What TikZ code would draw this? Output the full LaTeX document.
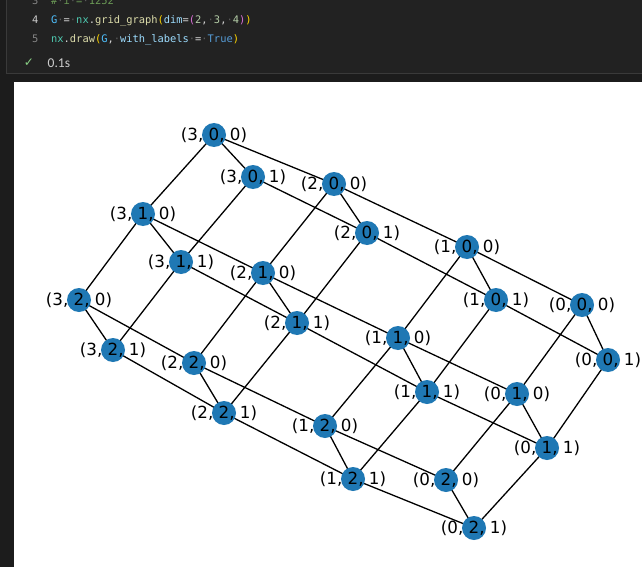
\documentclass[tikz,border=0pt]{standalone}
\usepackage{fontspec}
\setmainfont{DejaVu Sans}
\newfontfamily\codefont{DejaVu Sans Mono}
\newfontfamily\uifont{Carlito}
\newfontfamily\symfont{DejaVu Sans}
\definecolor{outerbg}{HTML}{1C1C1C}
\definecolor{cellbg}{HTML}{222222}
\definecolor{cellborder}{HTML}{3A3A3A}
\definecolor{lnumc}{HTML}{858585}
\definecolor{lnumact}{HTML}{CCCCCC}
\definecolor{varc}{HTML}{4FC1FF}
\definecolor{paramc}{HTML}{9CDCFE}
\definecolor{opc}{HTML}{D4D4D4}
\definecolor{modc}{HTML}{4EC9B0}
\definecolor{funcc}{HTML}{DCDCAA}
\definecolor{br1}{HTML}{FFD700}
\definecolor{br2}{HTML}{DA70D6}
\definecolor{numc}{HTML}{B5CEA8}
\definecolor{kwc}{HTML}{569CD6}
\definecolor{commc}{HTML}{6A9955}
\definecolor{wsdot}{HTML}{5A5A5A}
\definecolor{okc}{HTML}{89D185}
\definecolor{timec}{HTML}{CCCCCC}
\definecolor{nodeblue}{HTML}{1F78B4}
\newcommand\wsd{\textcolor{wsdot}{·}}
\pgfdeclarelayer{back}
\pgfdeclarelayer{edges}
\pgfsetlayers{back,edges,main}
\tikzset{
  codetxt/.style={font=\codefont\fontsize{10.4}{12}\selectfont, inner sep=0pt, anchor=base west, text=opc},
  lnum/.style={font=\codefont\fontsize{10.4}{12}\selectfont, inner sep=0pt, anchor=base east, text=lnumc},
  vtx/.style={circle, fill=nodeblue, minimum size=24pt, inner sep=0pt},
  lab/.style={font=\fontsize{16.7}{18}\selectfont, inner sep=0pt, text=black},
  edge/.style={draw=black, line width=1.3pt},
}
\begin{document}
\begin{tikzpicture}[x=1pt,y=-1pt]
\useasboundingbox (0,0) rectangle (642,567);
\begin{pgfonlayer}{back}
\fill[outerbg] (0,0) rectangle (642,567);
\fill[cellbg] (6,-5) rectangle (642,73);
\draw[cellborder, line width=1pt] (6.5,-5) -- (6.5,73.5) -- (642,73.5);
\fill[white] (14,82) rectangle (642,567);
\end{pgfonlayer}
% code lines
\node[lnum] (n3) at (38.5,5) {3};
\node[codetxt] (c3) at (51,5) {\textcolor{commc}{\#\wsd i\wsd=\wsd 1252}};
\node[lnum, text=lnumact] (n4) at (38.5,24) {4};
\node[codetxt] (c4) at (51,24) {\textcolor{varc}{G}\wsd=\wsd\textcolor{modc}{nx}.\textcolor{funcc}{grid\_graph}\textcolor{br1}{(}\textcolor{paramc}{dim}=\textcolor{br2}{(}\textcolor{numc}{2},\wsd\textcolor{numc}{3},\wsd\textcolor{numc}{4}\textcolor{br2}{)}\textcolor{br1}{)}};
\node[lnum] (n5) at (38.5,43) {5};
\node[codetxt] (c5) at (51,43) {\textcolor{modc}{nx}.\textcolor{funcc}{draw}\textcolor{br1}{(}\textcolor{varc}{G},\wsd\textcolor{paramc}{with\_labels}\wsd=\wsd\textcolor{kwc}{True}\textcolor{br1}{)}};
\node[font=\symfont\fontsize{12}{14}\selectfont, text=okc, inner sep=0pt] (ok) at (29,63) {✓};
\node[font=\uifont\fontsize{13.5}{15}\selectfont, text=timec, inner sep=0pt, anchor=base west] (tm) at (47.5,68) {0.1s};
% vertices
\foreach \a/\b/\c/\x/\y in {
 3/0/0/214/135, 3/0/1/253/177, 2/0/0/334/184, 2/0/1/367/233,
 1/0/0/467/247, 1/0/1/496/300, 0/0/0/582/305, 0/0/1/608/360,
 3/1/0/143/214, 3/1/1/181/262, 2/1/0/263/273, 2/1/1/297/323,
 1/1/0/398/338, 1/1/1/427/392, 0/1/0/517/394, 0/1/1/547/448,
 3/2/0/79/300, 3/2/1/113/350, 2/2/0/194/363, 2/2/1/224/413,
 1/2/0/325/426, 1/2/1/353/479, 0/2/0/446/480, 0/2/1/474/528}
{
  \node[vtx] (v\a\b\c) at (\x,\y) {};
}
% edges
\begin{pgfonlayer}{edges}
\foreach \a in {0,1,2,3}{
 \foreach \b in {0,1,2}{
  \foreach \c in {0,1}{
   \pgfmathtruncatemacro\na{\a+1}
   \pgfmathtruncatemacro\nb{\b+1}
   \pgfmathtruncatemacro\nc{\c+1}
   \ifnum\a<3 \draw[edge] (v\a\b\c.center) -- (v\na\b\c.center); \fi
   \ifnum\b<2 \draw[edge] (v\a\b\c.center) -- (v\a\nb\c.center); \fi
   \ifnum\c<1 \draw[edge] (v\a\b\c.center) -- (v\a\b\nc.center); \fi
  }
 }
}
\end{pgfonlayer}
% labels
\foreach \a/\b/\c in {3/0/0,3/0/1,2/0/0,2/0/1,1/0/0,1/0/1,0/0/0,0/0/1,
 3/1/0,3/1/1,2/1/0,2/1/1,1/1/0,1/1/1,0/1/0,0/1/1,
 3/2/0,3/2/1,2/2/0,2/2/1,1/2/0,1/2/1,0/2/0,0/2/1}
{
  \node[lab] (t\a\b\c) at (v\a\b\c) {(\a, \b, \c)};
}
\end{tikzpicture}
\end{document}
